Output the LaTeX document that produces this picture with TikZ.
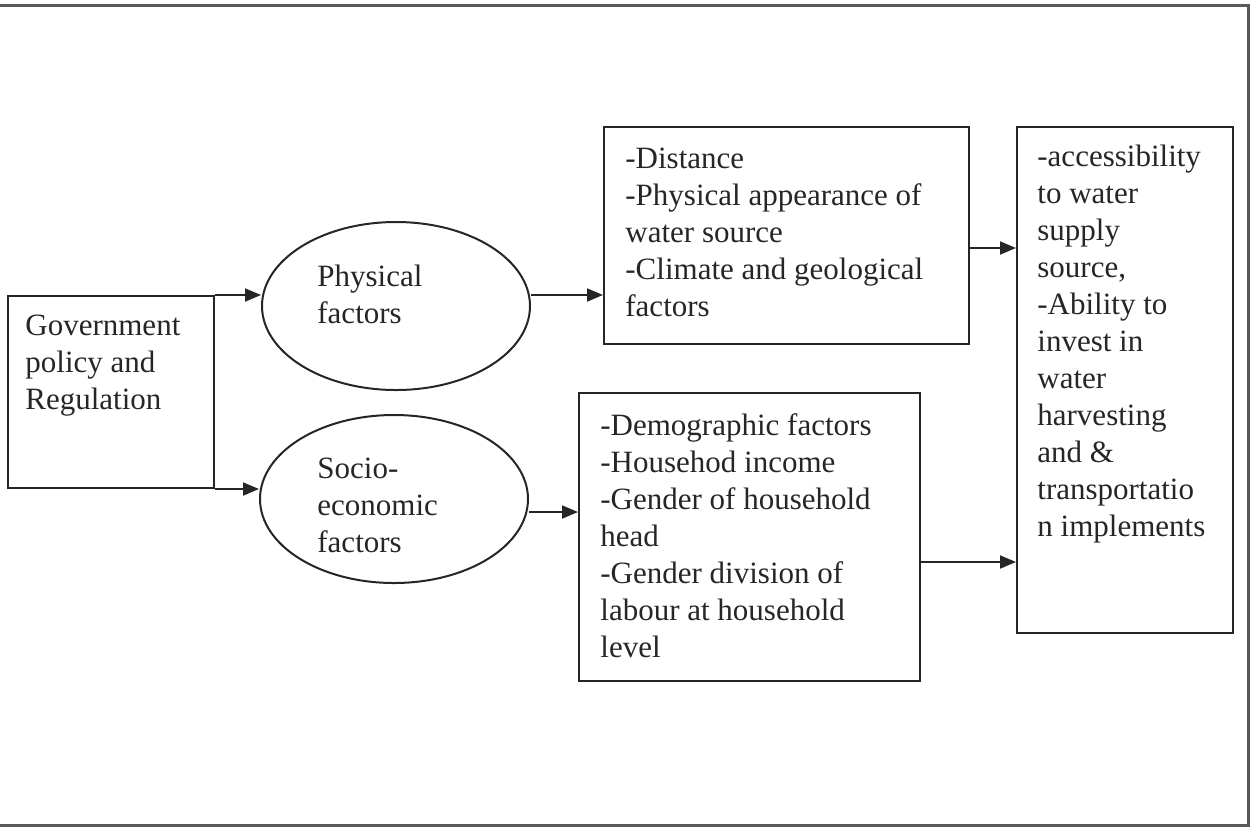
\documentclass[tikz,border=0pt]{standalone}
\usepackage{fontspec}
\setmainfont{Liberation Serif}
\usetikzlibrary{arrows.meta,shapes.geometric}
\begin{document}
\begin{tikzpicture}[x=0.5pt,y=-0.5pt,
 ln/.style={draw=black!85, line width=1pt},
 boxnode/.style={ln, rectangle, inner sep=0pt, anchor=north west},
 ellnode/.style={ln, ellipse, inner sep=0pt},
 txt/.style={anchor=north west, inner sep=0pt, align=left, font=\fontsize{15.5}{18.5}\selectfont, text=black!85},
 arr/.style={ln, -{Triangle[length=8pt,width=6.5pt]}},
]
\useasboundingbox (0,0) rectangle (1254,827);
\draw[gray!70!black, line width=1.5pt] (0,5) -- (1248,5) -- (1248,825) -- (0,825);

\node[boxnode, minimum width=103pt, minimum height=96pt] (gov) at (7,295) {};
\node[txt] (govt) at (25,315) {Government\\policy and\\Regulation};

\node[ellnode, minimum width=134pt, minimum height=84pt] (phys) at (396,306) {};
\node[txt] (physt) at (317,265) {Physical\\factors};
\node[ellnode, minimum width=134pt, minimum height=84pt] (socio) at (394,499) {};
\node[txt] (sociot) at (317,458) {Socio-\\economic\\factors};

\node[boxnode, minimum width=182.5pt, minimum height=108.5pt] (top) at (603,126) {};
\node[txt] (topt) at (625,148) {-Distance\\-Physical appearance of\\water source\\-Climate and geological\\factors};

\node[boxnode, minimum width=170.5pt, minimum height=144pt] (bot) at (578,392) {};
\node[txt] (bott) at (600,413) {-Demographic factors\\-Househod income\\-Gender of household\\head\\-Gender division of\\labour at household\\level};

\node[boxnode, minimum width=108pt, minimum height=253pt] (right) at (1016,126) {};
\node[txt] (rightt) at (1037,145) {-accessibility\\to water\\supply\\source,\\-Ability to\\invest in\\water\\harvesting\\and \&\\transportatio\\n implements};

\draw[arr] (gov.north east) -- (gov.north east -| phys.west);
\draw[arr] (gov.south east) -- (gov.south east -| socio.west);
\draw[arr] (gov.north east -| phys.east) -- (gov.north east -| top.west);
\draw[arr] ([yshift=-6.5pt]socio.east) -- ([yshift=-6.5pt]socio.east -| bot.west);
\draw[arr] ([yshift=-6.25pt]top.east) -- ([yshift=-6.25pt]top.east -| right.west);
\draw[arr] ([yshift=-12.5pt]bot.east) -- ([yshift=-12.5pt]bot.east -| right.west);
\end{tikzpicture}
\end{document}
